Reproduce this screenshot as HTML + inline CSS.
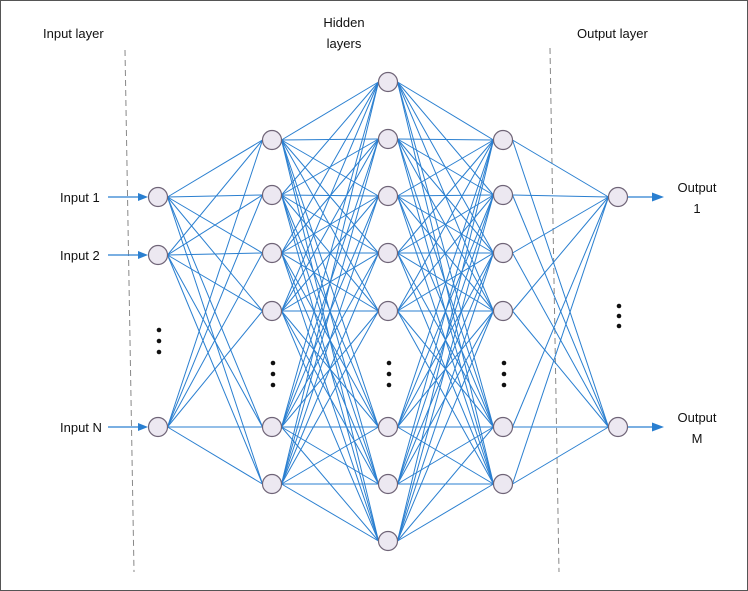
<!DOCTYPE html>
<html><head><meta charset="utf-8"><style>
html,body{margin:0;padding:0;background:#fff;}
svg{display:block;}
text{font-family:"Liberation Sans",sans-serif;font-size:13px;fill:#111;}
</style></head><body>
<svg id="nn" width="748" height="591" viewBox="0 0 748 591">
<rect x="0.5" y="0.5" width="747" height="590" fill="#fff" stroke="#555"/>
<line x1="125" y1="50" x2="134" y2="572" stroke="#888" stroke-dasharray="6,4"/>
<line x1="550" y1="48" x2="559" y2="572" stroke="#888" stroke-dasharray="6,4"/>
<text x="43" y="38">Input layer</text>
<text x="344" y="27" text-anchor="middle">Hidden</text>
<text x="344" y="48" text-anchor="middle">layers</text>
<text x="577" y="38">Output layer</text>
<g id="edges"></g>
<g id="nodes"></g>
<g id="labels"></g>
</svg>
<script>
const layerX = [158, 272, 388, 503, 618];
const layerNodesY = [
  [197, 255, 427],
  [140, 195, 253, 311, 427, 484],
  [82, 139, 196, 253, 311, 427, 484, 541],
  [140, 195, 253, 311, 427, 484],
  [197, 427]
];
const ellipsisY = [[330, 341, 352], [363, 374, 385], [363, 374, 385], [363, 374, 385], [306, 316, 326]];
const inputLabels = ["Input 1", "Input 2", "Input N"];
const outputLabels = [["Output", "1"], ["Output", "M"]];
const NS = "http://www.w3.org/2000/svg";
const R = 9.5, BLUE = "#2a7fd0";
const E = document.getElementById("edges"), N = document.getElementById("nodes"), L = document.getElementById("labels");
function mk(tag, attrs, parent){const e=document.createElementNS(NS,tag);for(const k in attrs)e.setAttribute(k,attrs[k]);parent.appendChild(e);return e;}
for(let l=0;l<layerX.length-1;l++){
  for(const y1 of layerNodesY[l]) for(const y2 of layerNodesY[l+1]){
    const e=mk("line",{x1:layerX[l]+R,y1:y1,x2:layerX[l+1]-R,y2:y2,stroke:BLUE,"stroke-width":1},E);
    
    
  }
}
layerNodesY.forEach((ys,l)=>{
  ys.forEach(y=>{
    const c=mk("circle",{cx:layerX[l],cy:y,r:R,fill:"#ece8f1",stroke:"#6f6477","stroke-width":1.2},N);
    
    
  });
  ellipsisY[l].forEach(y=>{
    const d=mk("circle",{cx:layerX[l]+1,cy:y,r:2.3,fill:"#111"},N);
    
    
  });
});
layerNodesY[0].forEach((y,i)=>{
  const a=mk("line",{x1:108,y1:y,x2:140,y2:y,stroke:BLUE,"stroke-width":1.3},L);
  
  
  const h=mk("polygon",{points:`${148},${y} ${138},${y-4} ${138},${y+4}`,fill:BLUE},L);
  
  
  const t=mk("text",{x:60,y:y+5},L);t.textContent=inputLabels[i];
  
  
});
layerNodesY[4].forEach((y,i)=>{
  const a=mk("line",{x1:628,y1:y,x2:654,y2:y,stroke:BLUE,"stroke-width":1.3},L);
  
  
  const h=mk("polygon",{points:`${664},${y} ${652},${y-4.5} ${652},${y+4.5}`,fill:BLUE},L);
  
  
  const t1=mk("text",{x:697,y:y-5,"text-anchor":"middle"},L);t1.textContent=outputLabels[i][0];
  
  
  const t2=mk("text",{x:697,y:y+16,"text-anchor":"middle"},L);t2.textContent=outputLabels[i][1];
  
  
});
</script>
</body></html>
